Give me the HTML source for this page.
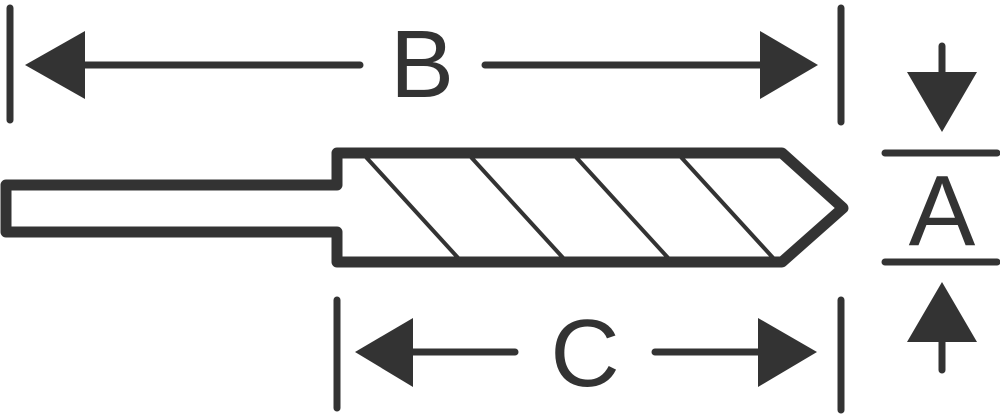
<!DOCTYPE html>
<html><head><style>html,body{margin:0;padding:0;background:#fff}svg{display:block}</style></head>
<body>
<svg width="1000" height="414" viewBox="0 0 1000 414" xmlns="http://www.w3.org/2000/svg">
<g stroke="#333" fill="none" stroke-linecap="round" stroke-linejoin="round">
<path d="M337 185 H6 V232 H337 V262 H782 L843 208 L782 153 H337 Z" stroke-width="11"/>
<g stroke-width="4">
<line x1="365" y1="156" x2="460" y2="260"/>
<line x1="470" y1="156" x2="565" y2="260"/>
<line x1="575" y1="156" x2="670" y2="260"/>
<line x1="680" y1="156" x2="775" y2="260"/>
</g>
<g stroke-width="7">
<line x1="10" y1="8" x2="10" y2="120"/>
<line x1="841" y1="8" x2="841" y2="122"/>
<line x1="337" y1="300" x2="337" y2="408"/>
<line x1="841" y1="300" x2="841" y2="410"/>
<line x1="80" y1="65" x2="360" y2="65"/>
<line x1="485" y1="65" x2="765" y2="65"/>
<line x1="410" y1="352" x2="515" y2="352"/>
<line x1="655" y1="352" x2="762" y2="352"/>
<line x1="942" y1="46" x2="942" y2="80"/>
<line x1="942" y1="335" x2="942" y2="370"/>
<line x1="885" y1="153" x2="997" y2="153"/>
<line x1="885" y1="262" x2="997" y2="262"/>
</g>
</g>
<g fill="#333">
<polygon points="25,65 85,31 85,99"/>
<polygon points="818,65 760,31 760,99"/>
<polygon points="355,352 413,318 413,387"/>
<polygon points="817,352 758,318 758,387"/>
<polygon points="907,72 977,72 942,132"/>
<polygon points="907,342 977,342 942,282"/>
</g>
<g font-family="Liberation Sans, sans-serif" fill="#333" text-anchor="middle" font-size="96">
<text x="422" y="97">B</text>
<text x="585" y="386">C</text>
<text x="942" y="245" font-size="100">A</text>
</g>
</svg>
</body></html>
